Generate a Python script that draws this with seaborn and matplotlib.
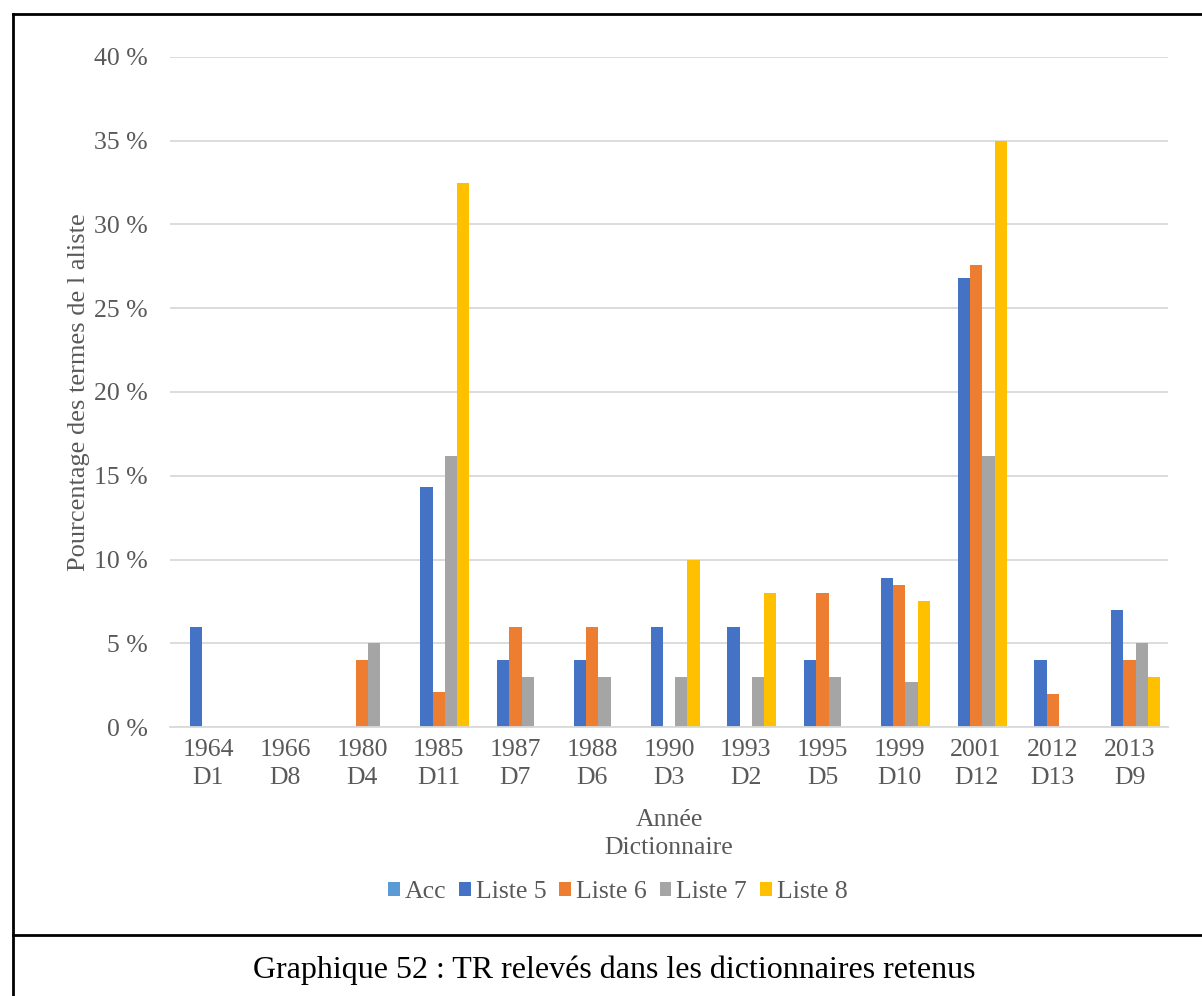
import pandas as pd
import numpy as np
import seaborn as sns
import matplotlib.pyplot as plt
from matplotlib.lines import Line2D

# data (percent)
annees = ['1964', '1966', '1980', '1985', '1987', '1988', '1990', '1993', '1995', '1999', '2001', '2012', '2013']
dicos = ['D1', 'D8', 'D4', 'D11', 'D7', 'D6', 'D3', 'D2', 'D5', 'D10', 'D12', 'D13', 'D9']
series = ['Acc', 'Liste 5', 'Liste 6', 'Liste 7', 'Liste 8']

acc = [0, 0, 0, 0, 0, 0, 0, 0, 0, 0, 0, 0, 0]
liste5 = [6, 0, 0, 14.3, 4, 4, 6, 6, 4, 8.9, 26.8, 4, 7]
liste6 = [0, 0, 4, 2.1, 6, 6, 0, 0, 8, 8.5, 27.6, 2, 4]
liste7 = [0, 0, 5, 16.2, 3, 3, 3, 3, 3, 2.7, 16.2, 0, 5]
liste8 = [0, 0, 0, 32.5, 0, 0, 10, 8, 0, 7.5, 35, 0, 3]

couleurs = ['#5B9BD5', '#4472C4', '#ED7D31', '#A5A5A5', '#FFC000']

categories = [a + '\n' + d for a, d in zip(annees, dicos)]
df = pd.DataFrame({'Acc': acc, 'Liste 5': liste5, 'Liste 6': liste6,
                   'Liste 7': liste7, 'Liste 8': liste8}, index=categories)
long = df.reset_index().melt(id_vars='index', var_name='serie', value_name='pct')

plt.rcParams['font.family'] = ['Liberation Serif', 'DejaVu Serif']
gris = '#595959'

fig = plt.figure(figsize=(12.02, 9.96), dpi=100)
ax = fig.add_axes([170 / 1202, 1 - 727 / 996, 998 / 1202, 670 / 996])

sns.barplot(data=long, x='index', y='pct', hue='serie', hue_order=series,
            palette=couleurs, order=categories, width=0.8, linewidth=0,
            saturation=1, errorbar=None, ax=ax)

ax.set_ylim(0, 40)
ax.set_yticks(range(0, 41, 5))
ax.set_yticklabels([f'{v} %' for v in range(0, 41, 5)])
ax.grid(axis='y', color='#D9D9D9', linewidth=1.3)
ax.set_axisbelow(True)
for s in ['top', 'right', 'left']:
    ax.spines[s].set_visible(False)
ax.spines['bottom'].set_color('#D9D9D9')
ax.spines['bottom'].set_linewidth(1.3)
ax.tick_params(axis='both', length=0, labelsize=18.5, labelcolor=gris)
ax.tick_params(axis='y', pad=16)
ax.tick_params(axis='x', pad=9)
for t in ax.get_xticklabels():
    t.set_linespacing(1.3)

ax.set_ylabel('Pourcentage des termes de l aliste', fontsize=19, color=gris)
ax.yaxis.set_label_coords(-0.08, 0.5)
ax.set_xlabel('Année\nDictionnaire', fontsize=18.5, color=gris, linespacing=1.35)
ax.xaxis.set_label_coords(0.5, -0.16)
ax.xaxis.label.set_va('center')

handles, labels = ax.get_legend_handles_labels()
if ax.get_legend() is not None:
    ax.get_legend().remove()
fig.legend(handles, labels, loc='center', bbox_to_anchor=(0.514, 1 - 892 / 996),
           ncol=5, frameon=False, fontsize=18.5, labelcolor=gris,
           handlelength=0.45, handleheight=0.45, handletextpad=0.2,
           columnspacing=0.5)

# cadre et légende du graphique
kw = dict(color='black', linewidth=2, transform=fig.transFigure)
fig.add_artist(Line2D([13 / 1202, 1], [1 - 14 / 996, 1 - 14 / 996], **kw))
fig.add_artist(Line2D([13 / 1202, 13 / 1202], [0, 1 - 14 / 996], **kw))
fig.add_artist(Line2D([13 / 1202, 1], [1 - 935 / 996, 1 - 935 / 996], **kw))
fig.text(614 / 1202, 1 - 970 / 996, 'Graphique 52 : TR relevés dans les dictionnaires retenus',
         ha='center', va='center', fontsize=23, color='black')

fig.savefig('out.png', dpi=100)
